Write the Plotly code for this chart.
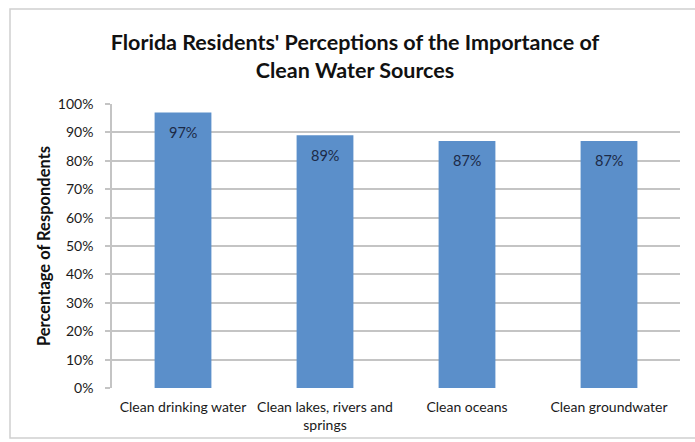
import plotly.graph_objects as go

# Survey results: share of respondents rating each water source as important
categories = ["Clean drinking water", "Clean lakes, rivers and<br>springs",
              "Clean oceans", "Clean groundwater"]
values = [0.97, 0.89, 0.87, 0.87]
value_labels = ["97%", "89%", "87%", "87%"]
y_ticks = [i / 10 for i in range(11)]
y_tick_labels = [f"{i * 10}%" for i in range(11)]

BAR = "#5B8FCA"
GRID = "#C4C4C4"
FONT = "Lato, 'Open Sans', sans-serif"

fig = go.Figure()
fig.add_trace(go.Bar(
    x=categories,
    y=values,
    marker=dict(color=BAR, line=dict(width=0)),
    hoverinfo="skip",
))

# Value labels sit just inside the top of each bar
for cat, v, lab in zip(categories, values, value_labels):
    fig.add_annotation(
        x=cat, y=v, text=lab, showarrow=False,
        yanchor="middle", yshift=-20,
        font=dict(family=FONT, size=14.5, color="#1C2A47"),
    )

L, R, T, B = 112, 15, 104, 54
W, H = 695, 442
pw, ph = W - L - R, H - T - B

def px_x(x):
    return (x - L) / pw

def px_y(y):
    return (H - B - y) / ph

# Outer chart frame
fig.add_shape(
    type="rect", xref="paper", yref="paper",
    x0=px_x(10), x1=px_x(720), y0=px_y(438), y1=px_y(9),
    line=dict(color="#D0D0D0", width=1.5), fillcolor="rgba(0,0,0,0)",
    layer="below",
)

fig.update_layout(
    width=W, height=H,
    margin=dict(l=L, r=R, t=T, b=B),
    paper_bgcolor="white",
    plot_bgcolor="white",
    bargap=0.6,
    showlegend=False,
    font=dict(family=FONT, color="#1a1a1a"),
    title=dict(
        text="Florida Residents' Perceptions of the Importance of<br>Clean Water Sources",
        xref="container", x=355 / W, xanchor="center",
        yref="container", y=1 - 50 / H, yanchor="middle",
        font=dict(family=FONT, size=21.5, color="#111111", weight="bold"),
    ),
    xaxis=dict(
        showgrid=False, showline=False, ticks="",
        ticklabelstandoff=9,
        tickfont=dict(family=FONT, size=14, color="#1a1a1a"),
        automargin=False,
        fixedrange=True,
    ),
    yaxis=dict(
        range=[0, 1],
        tickvals=y_ticks, ticktext=y_tick_labels,
        showgrid=True, gridcolor=GRID, gridwidth=1.5,
        showline=True, linecolor=GRID, linewidth=1.5,
        ticks="outside", ticklen=5, tickcolor=GRID, tickwidth=1.5,
        ticklabelstandoff=9,
        tickfont=dict(family=FONT, size=14, color="#1a1a1a"),
        title=dict(
            text="Percentage of Respondents", standoff=3,
            font=dict(family=FONT, size=16.5, color="#111111", weight="bold"),
        ),
        zeroline=False,
        automargin=False,
        fixedrange=True,
    ),
)

fig.write_html("out.html")
